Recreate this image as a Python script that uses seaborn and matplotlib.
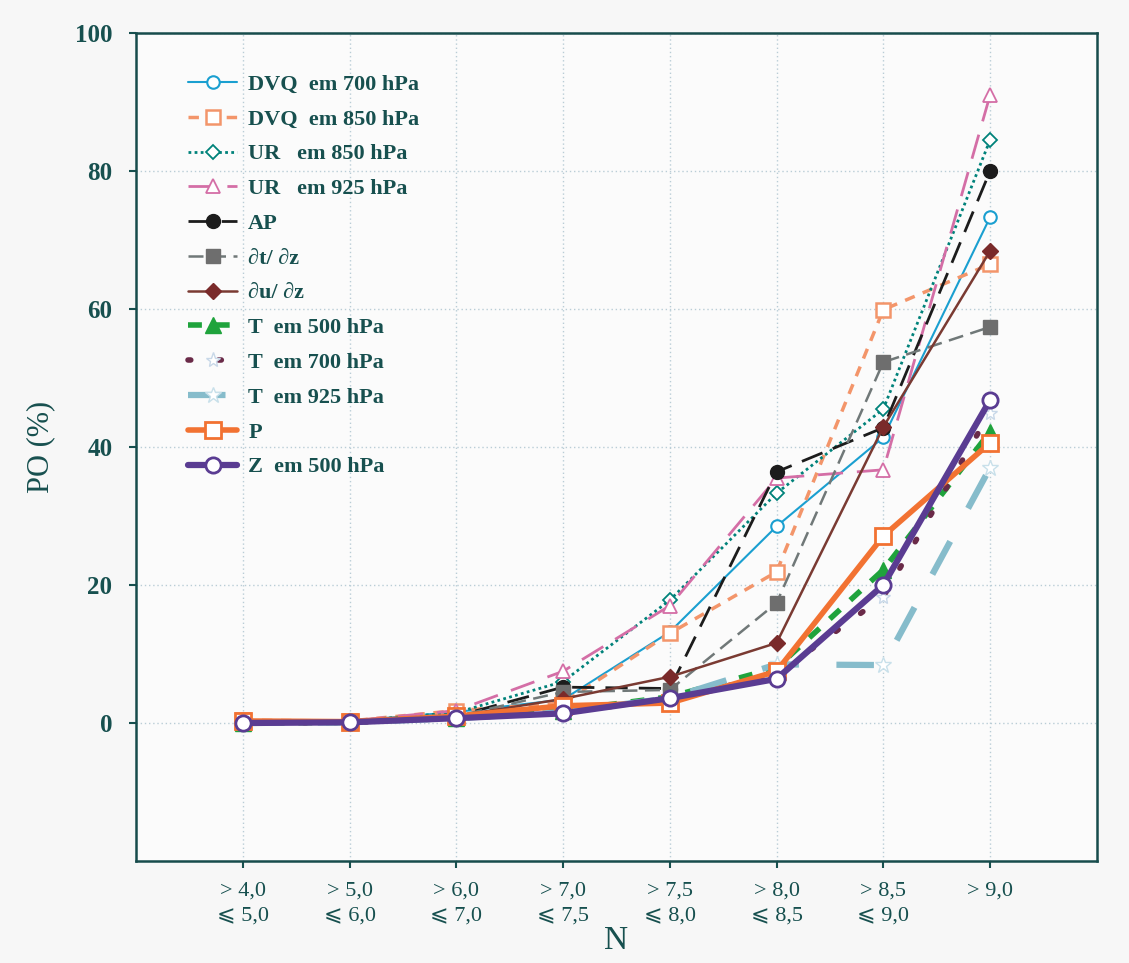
import matplotlib
matplotlib.use("Agg")
import matplotlib.pyplot as plt
import seaborn as sns
import pandas as pd
import numpy as np

categories = ["> 4,0\n⩽ 5,0", "> 5,0\n⩽ 6,0", "> 6,0\n⩽ 7,0", "> 7,0\n⩽ 7,5",
              "> 7,5\n⩽ 8,0", "> 8,0\n⩽ 8,5", "> 8,5\n⩽ 9,0", "> 9,0\n "]

dvq_700 = [0.2, 0.3, 1.6, 3.4, 13.2, 28.5, 41.4, 73.3]
dvq_850 = [0.4, 0.3, 1.8, 2.9, 13.0, 21.9, 59.9, 66.5]
ur_850 = [0.1, 0.3, 1.5, 6.0, 17.8, 33.3, 45.5, 84.5]
ur_925 = [0.1, 0.3, 1.8, 7.5, 17.0, 35.5, 36.7, 91.0]
ap = [0.0, 0.3, 1.0, 5.2, 5.0, 36.4, 42.8, 80.0]
dt_dz = [0.0, 0.2, 1.0, 4.5, 4.8, 17.4, 52.3, 57.4]
du_dz = [0.0, 0.2, 1.0, 3.5, 6.7, 11.6, 42.9, 68.4]
t_500 = [0.0, 0.1, 0.8, 1.8, 3.8, 8.0, 22.2, 42.2]
t_700 = [0.0, 0.1, 0.7, 1.5, 3.5, 7.0, 18.3, 45.0]
t_925 = [0.0, 0.1, 0.7, 1.6, 3.6, 8.5, 8.4, 37.0]
p = [0.3, 0.2, 1.0, 2.5, 2.9, 7.5, 27.1, 40.6]
z_500 = [0.0, 0.1, 0.7, 1.4, 3.6, 6.4, 20.0, 46.8]

series_names = ["DVQ  em 700 hPa", "DVQ  em 850 hPa", "UR   em 850 hPa", "UR   em 925 hPa",
                "AP", "∂t/ ∂z", "∂u/ ∂z", "T  em 500 hPa", "T  em 700 hPa",
                "T  em 925 hPa", "P", "Z  em 500 hPa"]
series_values = [dvq_700, dvq_850, ur_850, ur_925, ap, dt_dz, du_dz,
                 t_500, t_700, t_925, p, z_500]

styles = [
    dict(color="#1a9fd0", lw=1.5, ls="-", marker="o", ms=9, mfc="white", mec="#1a9fd0", mew=1.5),
    dict(color="#f3956a", lw=2.5, ls=(0, (3, 2.5)), marker="s", ms=10, mfc="white", mec="#f3956a", mew=1.8),
    dict(color="#00827a", lw=2.0, ls=(0, (1, 1.2)), marker="D", ms=7, mfc="white", mec="#00827a", mew=1.3),
    dict(color="#d46ea6", lw=2.0, ls=(0, (9, 5)), marker="^", ms=10, mfc="white", mec="#d46ea6", mew=1.3),
    dict(color="#1c1c1c", lw=2.0, ls=(0, (8, 4)), marker="o", ms=10, mfc="#1c1c1c", mec="#1c1c1c", mew=1.0),
    dict(color="#707878", lw=1.8, ls=(0, (6, 3)), marker="s", ms=10, mfc="#6e6e6e", mec="#6e6e6e", mew=1.0),
    dict(color="#7a3a32", lw=1.8, ls="-", marker="D", ms=8, mfc="#7a2a2a", mec="#7a2a2a", mew=1.0),
    dict(color="#1fa33c", lw=4.0, ls=(0, (2.5, 2.5)), marker="^", ms=11, mfc="#1fa33c", mec="#1fa33c", mew=1.0),
    dict(color="#6a2a48", lw=4.0, ls=(0, (0.5, 5)), dash_capstyle="round", marker="*", ms=11, mfc="white", mec="#c8d8e8", mew=1.0),
    dict(color="#86bccb", lw=4.5, ls=(0, (6, 6)), marker="*", ms=12, mfc="white", mec="#c8e0ea", mew=1.0),
    dict(color="#f27232", lw=4.0, ls="-", marker="s", ms=11, mfc="white", mec="#f27232", mew=2.0),
    dict(color="#5a3c92", lw=4.5, ls="-", marker="o", ms=11, mfc="white", mec="#5a3c92", mew=2.0),
]

sns.set_theme(style="white")
serif = ["Liberation Serif", "DejaVu Sans"]
plt.rcParams["font.family"] = serif

text_color = "#17504f"

fig = plt.figure(figsize=(11.29, 9.63), dpi=100)
fig.patch.set_facecolor("#f7f7f7")
ax = fig.add_axes([0.1205, 0.1059, 0.851, 0.8598])
ax.set_facecolor("#fbfbfb")

x_idx = np.arange(len(categories))
for name, vals, st in zip(series_names, series_values, styles):
    df = pd.DataFrame({"x": x_idx, "y": vals})
    st = dict(st)
    ls = st.pop("ls")
    capstyle = st.pop("dash_capstyle", None)
    sns.lineplot(data=df, x="x", y="y", ax=ax, label=name, linestyle=ls,
                 color=st["color"], linewidth=st["lw"], marker=st["marker"],
                 markersize=st["ms"], markerfacecolor=st["mfc"],
                 markeredgecolor=st["mec"], markeredgewidth=st["mew"])
    if capstyle:
        ax.lines[-1].set_dash_capstyle(capstyle)

ax.set_xlim(-1, 8)
ax.set_ylim(-20, 100)
ax.set_xticks(x_idx)
ax.set_xticklabels(categories, fontsize=16, color=text_color, linespacing=1.4)
ax.set_yticks([0, 20, 40, 60, 80, 100])
ax.set_yticklabels(["0", "20", "40", "60", "80", "100"], fontsize=18,
                   fontweight="bold", color=text_color)
ax.tick_params(axis="both", direction="out", length=5, width=1.5, color=text_color, left=True, bottom=True)
ax.tick_params(axis="x", pad=10)
ax.tick_params(axis="y", pad=12)

ax.grid(True, color="#b9cdd6", linestyle=(0, (1, 2)), linewidth=1.0)
for s in ax.spines.values():
    s.set_color("#174c4c")
    s.set_linewidth(1.8)

ax.set_xlabel("N", fontsize=24, color=text_color, labelpad=0)
ax.set_ylabel("PO (%)", fontsize=22, color=text_color, labelpad=14)

leg = ax.legend(loc="upper left", bbox_to_anchor=(0.045, 0.961), frameon=False,
                fontsize=16, handlelength=2.2, labelspacing=0.64, handletextpad=0.5,
                borderaxespad=0)
for t in leg.get_texts():
    t.set_color(text_color)
    t.set_fontweight("bold")

fig.savefig("out.png", dpi=100, facecolor=fig.get_facecolor())
